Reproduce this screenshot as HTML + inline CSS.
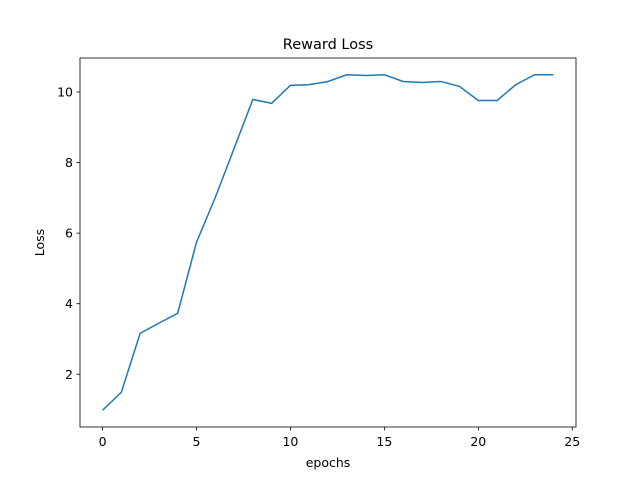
<!DOCTYPE html>
<html><head><meta charset="utf-8"><style>
body{margin:0;background:#fff;}
svg{display:block;font-family:"DejaVu Sans","Liberation Sans",sans-serif;}
</style></head><body>
<svg id="chart" width="640" height="480" viewBox="0 0 640 480">
<rect x="0" y="0" width="640" height="480" fill="#fff"/>
<text x="328" y="49" font-size="14.5" text-anchor="middle">Reward Loss</text>
<g id="plot"></g>
<rect x="80" y="58" width="496" height="369" fill="none" stroke="#000" stroke-width="0.8"/>
<text x="328" y="467" font-size="12.5" text-anchor="middle">epochs</text>
<text transform="translate(44,242.5) rotate(-90)" font-size="12.5" text-anchor="middle">Loss</text>
</svg>
<script>
const epochs=[0,1,2,3,4,5,6,7,8,9,10,11,12,13,14,15,16,17,18,19,20,21,22,23,24];
const lossValues=[0.98,1.49,3.16,3.45,3.73,5.74,7.01,8.40,9.79,9.68,10.19,10.21,10.30,10.49,10.47,10.49,10.30,10.27,10.30,10.16,9.76,9.76,10.21,10.49,10.49];
const xTicks=[0,5,10,15,20,25];
const yTicks=[2,4,6,8,10];
const X0=80,X1=576,Y0=427,Y1=58;
const xMin=-1.2,xMax=25.2,yMin=0.505,yMax=10.965;
const sx=v=>X0+(v-xMin)/(xMax-xMin)*(X1-X0);
const sy=v=>Y0-(v-yMin)/(yMax-yMin)*(Y0-Y1);
const NS="http://www.w3.org/2000/svg";
const g=document.getElementById('plot');
function mk(t,a){const e=document.createElementNS(NS,t);for(const k in a)e.setAttribute(k,a[k]);g.appendChild(e);return e;}
xTicks.forEach(t=>{
  const l=mk('line',{x1:sx(t),x2:sx(t),y1:Y0,y2:Y0+3.5,stroke:'#000','stroke-width':0.8});
  
  
  const tx=mk('text',{x:sx(t),y:Y0+19,'font-size':12.5,'text-anchor':'middle'});
  tx.textContent=t;
  
  
});
yTicks.forEach(t=>{
  const l=mk('line',{x1:X0-3.5,x2:X0,y1:sy(t),y2:sy(t),stroke:'#000','stroke-width':0.8});
  
  
  const tx=mk('text',{x:X0-7,y:sy(t)+4.5,'font-size':12.5,'text-anchor':'end'});
  tx.textContent=t;
  
  
});
const p=mk('polyline',{points:epochs.map((e,i)=>sx(e)+','+sy(lossValues[i])).join(' '),fill:'none',stroke:'#1f77b4','stroke-width':1.5});


</script>
</body></html>
